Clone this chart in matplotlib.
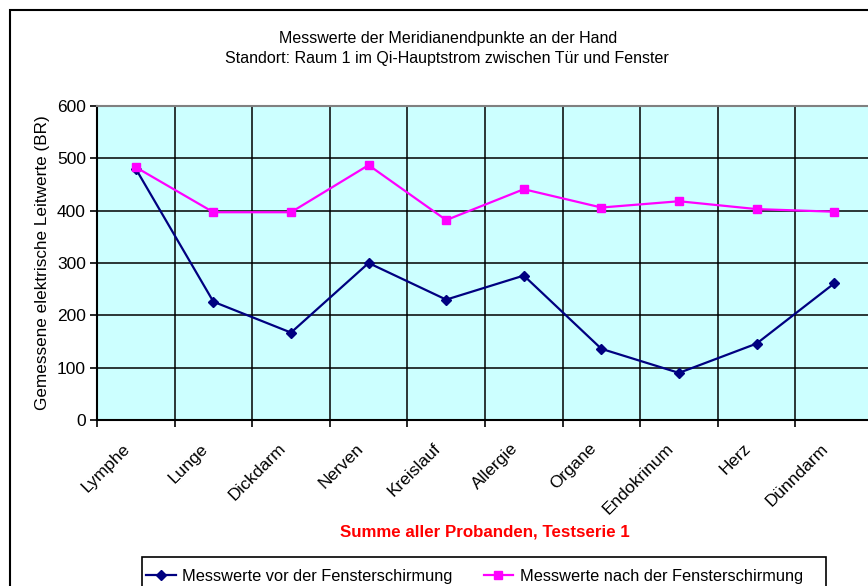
import matplotlib
matplotlib.use("Agg")
import matplotlib.pyplot as plt
from matplotlib.patches import Rectangle
from matplotlib.transforms import ScaledTranslation
import numpy as np

categories = ["Lymphe", "Lunge", "Dickdarm", "Nerven", "Kreislauf", "Allergie",
              "Organe", "Endokrinum", "Herz", "Dünndarm"]
vor = [480, 226, 167, 300, 230, 276, 136, 90, 146, 261]
nach = [483, 397, 397, 487, 382, 441, 406, 418, 403, 398]
yticks = [0, 100, 200, 300, 400, 500, 600]

plt.rcParams['font.family'] = ['Liberation Sans', 'DejaVu Sans']

W, H = 868, 586
fig = plt.figure(figsize=(W/100, H/100), dpi=100)
fig.patch.set_facecolor('white')

# outer chart frame (cut off at right and bottom)
fig.patches.append(Rectangle((10/W, -0.2), 2.0, (H-10)/H + 0.2, transform=fig.transFigure,
                             fill=False, edgecolor='black', linewidth=1.5, zorder=0))

ax = fig.add_axes([97/W, (H-420)/H, 776/W, 314/H])
ax.set_facecolor('#CCFFFF')
x = np.arange(len(categories))
ax.plot(x, vor, color='#000080', linewidth=1.6, marker='D', markersize=5.5,
        label='Messwerte vor der Fensterschirmung', zorder=3, clip_on=False)
ax.plot(x, nach, color='#FF00FF', linewidth=1.6, marker='s', markersize=6,
        label='Messwerte nach der Fensterschirmung', zorder=3, clip_on=False)

ax.set_xlim(-0.5, len(categories) - 0.5)
ax.set_ylim(0, 600)
ax.set_yticks(yticks)
ax.set_yticklabels([str(v) for v in yticks], fontsize=12.5)
ax.set_xticks(np.arange(-0.5, len(categories), 1.0))
ax.set_xticklabels([])
# category labels, rotated like the reference
lab_tr = ax.get_xaxis_transform() + ScaledTranslation(-8/100, -26/100, fig.dpi_scale_trans)
for i, c in enumerate(categories):
    ax.text(x[i], 0, c, transform=lab_tr, rotation=45, ha='right', va='center',
            rotation_mode='anchor', fontsize=12.5, clip_on=False)
ax.tick_params(axis='x', length=5, width=1.2, direction='out', color='black')
ax.tick_params(axis='y', length=5, width=1.2, direction='out', pad=3)
ax.grid(axis='both', color='black', linewidth=1.1, zorder=1)
ax.set_axisbelow(True)
for s in ['left', 'bottom']:
    ax.spines[s].set_color('black')
    ax.spines[s].set_linewidth(1.5)
ax.spines['top'].set_color('#808080')
ax.spines['top'].set_linewidth(1.5)
ax.spines['right'].set_visible(False)

ax.set_ylabel('Gemessene elektrische Leitwerte (BR)', fontsize=12.3, labelpad=5)

fig.text(448/W, 1 - 38/H, 'Messwerte der Meridianendpunkte an der Hand', ha='center', va='center',
         fontsize=11.5)
fig.text(447/W, 1 - 59/H, 'Standort: Raum 1 im Qi-Hauptstrom zwischen Tür und Fenster', ha='center',
         va='center', fontsize=11.5)
fig.text(485/W, 1 - 532/H, 'Summe aller Probanden, Testserie 1', ha='center', va='center',
         fontsize=12.2, fontweight='bold', color='red')

# legend frame drawn separately (cut off at the bottom like the reference)
fig.patches.append(Rectangle((142/W, -0.1), (826-142)/W, (H-557)/H + 0.1, transform=fig.transFigure,
                             fill=True, facecolor='white', edgecolor='black', linewidth=1.2, zorder=1))
leg = fig.legend(loc='center left', bbox_to_anchor=(146/W, 1 - 576/H), ncol=2, fontsize=11.8,
                 frameon=False, borderpad=0, borderaxespad=0, columnspacing=1.9,
                 handlelength=1.8, handletextpad=0.4)
leg.set_zorder(5)

fig.savefig('out.png', dpi=100)
